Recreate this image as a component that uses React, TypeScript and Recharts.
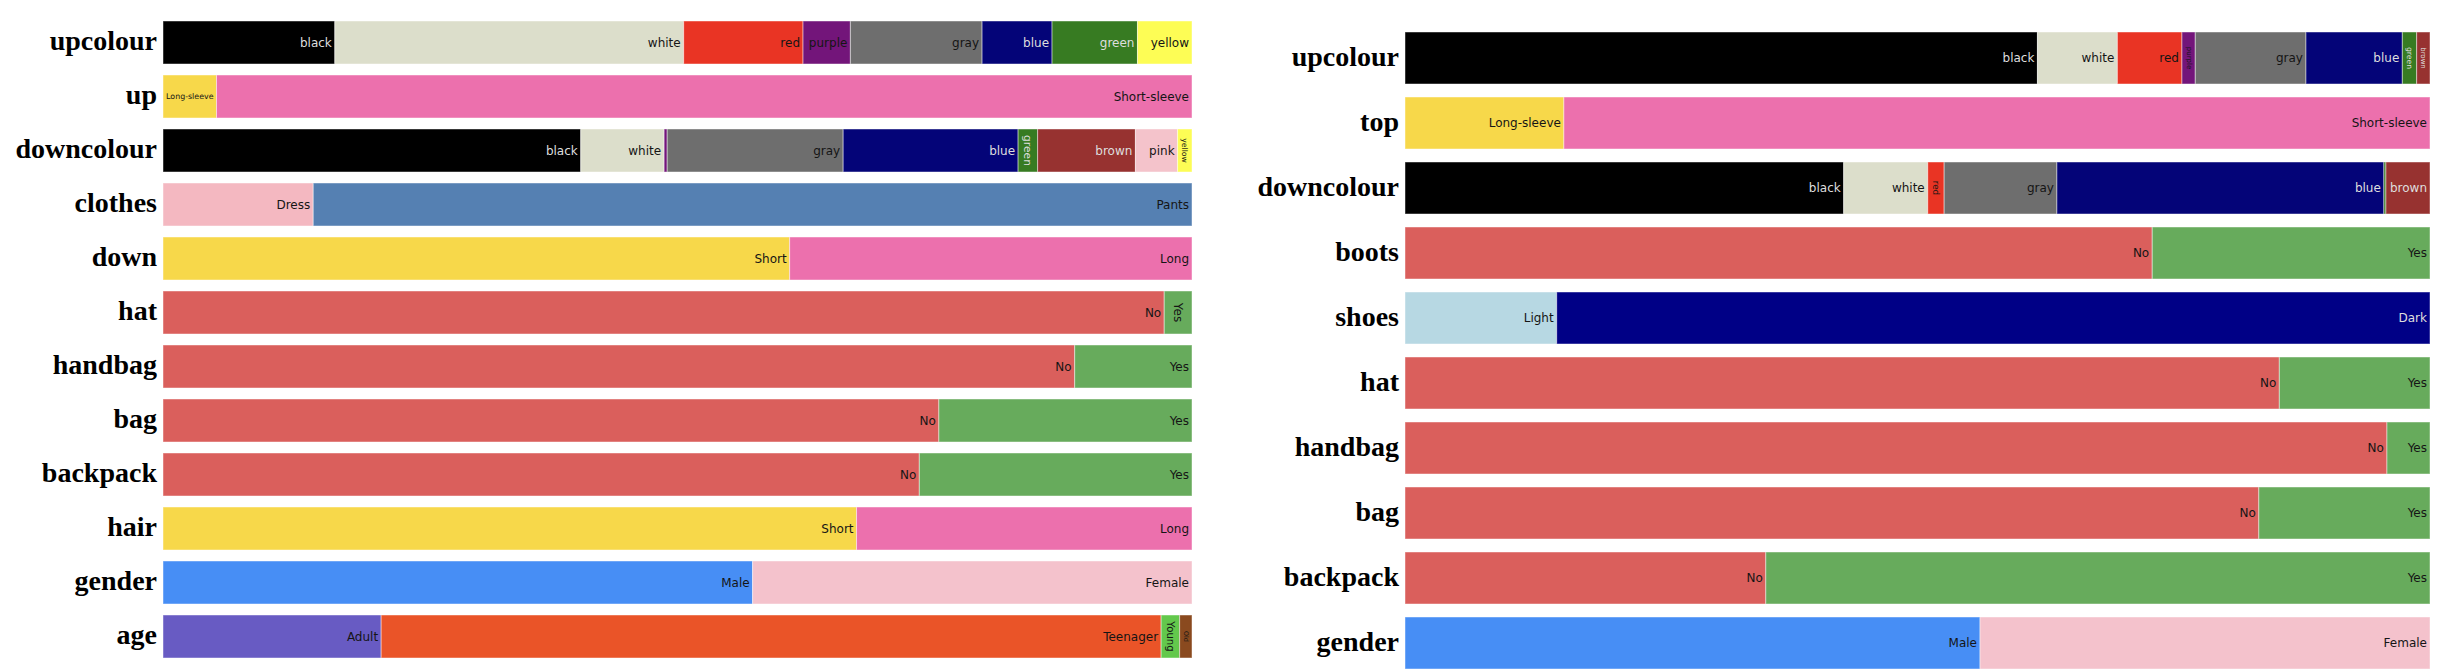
import React from "react";
import { BarChart, Bar, XAxis, YAxis } from "recharts";

// Market-1501 style attributes (left panel)
const leftRows = ["upcolour", "up", "downcolour", "clothes", "down", "hat", "handbag", "bag", "backpack", "hair", "gender", "age"];
const leftNames = [
  ["black", "white", "red", "purple", "gray", "blue", "green", "yellow"],
  ["Long-sleeve", "Short-sleeve"],
  ["black", "white", "purple", "gray", "blue", "green", "brown", "pink", "yellow"],
  ["Dress", "Pants"],
  ["Short", "Long"],
  ["No", "Yes"],
  ["No", "Yes"],
  ["No", "Yes"],
  ["No", "Yes"],
  ["Short", "Long"],
  ["Male", "Female"],
  ["Adult", "Teenager", "Young", "Old"],
];
const leftValues = [
  [16.7, 33.9, 11.6, 4.6, 12.8, 6.8, 8.3, 5.3],
  [5.2, 94.8],
  [40.6, 8.1, 0.3, 17.1, 17.0, 1.9, 9.5, 4.1, 1.4],
  [14.6, 85.4],
  [60.9, 39.1],
  [97.3, 2.7],
  [88.6, 11.4],
  [75.4, 24.6],
  [73.5, 26.5],
  [67.4, 32.6],
  [57.3, 42.7],
  [21.2, 75.8, 1.8, 1.2],
];

// DukeMTMC style attributes (right panel)
const rightRows = ["upcolour", "top", "downcolour", "boots", "shoes", "hat", "handbag", "bag", "backpack", "gender"];
const rightNames = [
  ["black", "white", "red", "purple", "gray", "blue", "green", "brown"],
  ["Long-sleeve", "Short-sleeve"],
  ["black", "white", "red", "gray", "blue", "green", "brown"],
  ["No", "Yes"],
  ["Light", "Dark"],
  ["No", "Yes"],
  ["No", "Yes"],
  ["No", "Yes"],
  ["No", "Yes"],
  ["Male", "Female"],
];
const rightValues = [
  [61.7, 7.8, 6.3, 1.3, 10.8, 9.4, 1.4, 1.3],
  [15.5, 84.5],
  [42.8, 8.2, 1.6, 11.0, 31.9, 0.2, 4.3],
  [72.9, 27.1],
  [14.8, 85.2],
  [85.3, 14.7],
  [95.8, 4.2],
  [83.3, 16.7],
  [35.2, 64.8],
  [56.1, 43.9],
];

const colorOf: Record<string, string> = {
  black: "#000000",
  white: "#dcdecb",
  red: "#e93424",
  purple: "#73157a",
  gray: "#6e6e6e",
  blue: "#040478",
  green: "#377b22",
  yellow: "#fdfd55",
  brown: "#973230",
  pink: "#f4c3cb",
  "Long-sleeve": "#f7d84a",
  "Short-sleeve": "#ec70ad",
  Dress: "#f4b8c1",
  Pants: "#5580b2",
  Short: "#f7d84a",
  Long: "#ec70ad",
  No: "#da5f5c",
  Yes: "#67ab5c",
  Male: "#478ef5",
  Female: "#f4c2cc",
  Adult: "#685bc3",
  Teenager: "#ea5428",
  Young: "#63c84c",
  Old: "#8a4a1f",
  Light: "#b7d8e3",
  Dark: "#000086",
};
const lightText = ["black", "blue", "green", "brown", "Dark"];

let ctx: CanvasRenderingContext2D | null = null;
function textWidth(s: string, size: number) {
  if (!ctx) ctx = document.createElement("canvas").getContext("2d");
  if (!ctx) return s.length * size * 0.6;
  ctx.font = `${size}px "DejaVu Sans"`;
  return ctx.measureText(s).width;
}

function buildRows(rows: string[], values: number[][]) {
  return rows.map((name, i) => {
    const row: any = { name, idx: i };
    for (let k = 0; k < 9; k++) row["s" + k] = values[i][k] ?? 0;
    return row;
  });
}

function makeShape(k: number, names: string[][]) {
  return (p: any) => {
    const { x, y, width, height, payload } = p;
    if (!width || width <= 0) return <g />;
    const label = names[payload.idx][k];
    const fill = colorOf[label];
    const txtColor = lightText.includes(label) ? "#dedede" : "#151515";
    let text = null;
    if (width >= 32) {
      const w12 = textWidth(label, 12);
      const fs = Math.min(12, ((width - 6) / w12) * 12);
      text = (
        <text x={x + width - 3} y={y + height / 2} textAnchor="end" dominantBaseline="central"
          fontFamily="DejaVu Sans" fontSize={fs} fill={txtColor}>{label}</text>
      );
    } else if (width >= 5) {
      const fs = Math.min(12, width * 0.6 - 1);
      const cx = x + width / 2;
      const cy = y + height / 2;
      text = (
        <text x={cx} y={cy} textAnchor="middle" dominantBaseline="central" transform={`rotate(90 ${cx} ${cy})`}
          fontFamily="DejaVu Sans" fontSize={fs} fill={txtColor}>{label}</text>
      );
    }
    return (
      <g>
        <rect x={x} y={y} width={width} height={height} fill={fill} stroke="rgba(255,255,255,0.45)" strokeWidth={1} />
        {text}
      </g>
    );
  };
}

function RowTick(props: any) {
  const { x, y, payload } = props;
  return (
    <text x={x} y={y} dy={8} textAnchor="end" fontFamily="Liberation Serif" fontWeight="bold" fontSize={28} fill="#000">
      {payload.value}
    </text>
  );
}

function Panel({ rows, names, values, width, height, yWidth, margin, barSize }: any) {
  const data = buildRows(rows, values);
  const segCount = Math.max(...names.map((n: string[]) => n.length));
  return (
    <BarChart width={width} height={height} data={data} layout="vertical" margin={margin} barSize={barSize}>
      <XAxis type="number" domain={[0, 100]} allowDataOverflow hide />
      <YAxis type="category" dataKey="name" width={yWidth} axisLine={false} tickLine={false}
        tickSize={0} tickMargin={6} interval={0} tick={<RowTick />} />
      {Array.from({ length: segCount }, (_, k) => (
        <Bar key={k} dataKey={"s" + k} stackId="a" isAnimationActive={false} shape={makeShape(k, names)} />
      ))}
    </BarChart>
  );
}

export default function App() {
  return (
    <div style={{ position: "absolute", left: 0, top: 0, width: 2446, height: 672, overflow: "hidden", background: "#fff" }}>
      <div style={{ position: "absolute", left: 0, top: 0 }}>
        <Panel rows={leftRows} names={leftNames} values={leftValues} width={1200} height={672}
          yWidth={163} margin={{ top: 15, right: 8, bottom: 9, left: 0 }} barSize={43} />
      </div>
      <div style={{ position: "absolute", left: 1240, top: 0 }}>
        <Panel rows={rightRows} names={rightNames} values={rightValues} width={1206} height={680}
          yWidth={165} margin={{ top: 25, right: 16, bottom: 5, left: 0 }} barSize={52} />
      </div>
    </div>
  );
}
